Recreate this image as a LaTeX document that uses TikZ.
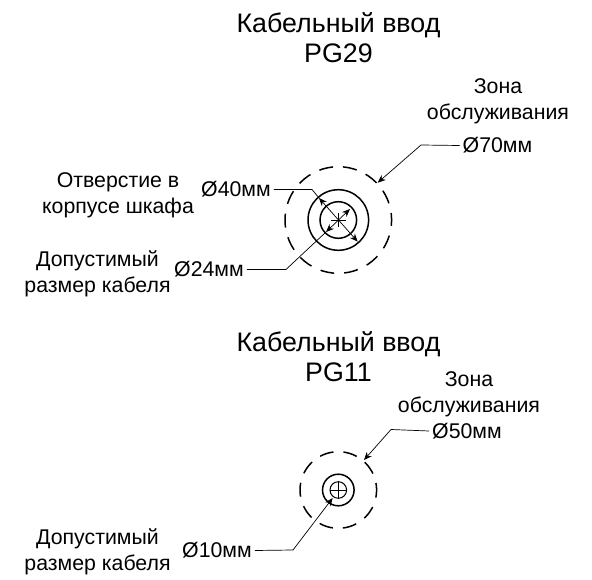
\documentclass[tikz,border=0pt]{standalone}
\usepackage{fontspec}
\setmainfont{Liberation Sans}
\usetikzlibrary{arrows.meta}
\tikzset{
  title/.style={align=center, font=\fontsize{26.8}{30}\selectfont, inner sep=0pt},
  label/.style={align=center, font=\fontsize{21.3}{26}\selectfont, inner sep=0pt},
  dim/.style={font=\fontsize{21.3}{25}\selectfont, inner sep=3pt},
  ring/.style={draw, circle, line width=1.5pt, minimum size=#1, inner sep=0pt},
  zone/.style={draw, circle, line width=1.5pt, dash pattern=on 14pt off 10pt, dash phase=7pt, minimum size=#1, inner sep=0pt},
  leader/.style={line width=0.7pt},
  arrow/.style={line width=0.7pt, -{Stealth[length=8pt,width=6.5pt]}},
  both/.style={line width=0.7pt, {Stealth[length=8pt,width=6.5pt]}-{Stealth[length=8pt,width=6.5pt]}}
}
\begin{document}
\begin{tikzpicture}[x=1pt, y=-1pt]
\useasboundingbox (0,0) rectangle (592,580);
%% upper gland
  \node[title] (titleA) at (338.5,38) {Кабельный ввод\\PG29};
  \node[label] (zoneA) at (498,101.5) {Зона\\обслуживания};
  \node[dim] (dimA) at (497.5,145.5) {Ø70мм};
  \node[label] (holeA) at (118,195) {Отверстие в\\корпусе шкафа};
  \node[dim] (dimB) at (236,189.5) {Ø40мм};
  \node[label] (cableA) at (97.5,274) {Допустимый\\размер кабеля};
  \node[dim] (dimC) at (209,269.5) {Ø24мм};
  \node[zone=106.6pt] (outerA) at (338.3,220) {};
  \node[ring=60.6pt] (midA) at (338.3,220) {};
  \node[ring=36.6pt] (innerA) at (338.3,220) {};
  \coordinate (kneeA) at (421,145);
  \coordinate (kneeB) at (312,189.5);
  \coordinate (kneeC) at (286,269.5);
  \coordinate (tipA) at (377.7,182.7);
  \coordinate (tipB) at (319,198);
  \coordinate (tipC) at (357.7,241.7);
  \coordinate (tipD) at (326,232);
  \coordinate (tipE) at (350,209);
  \draw[arrow] (dimA.west) -- (kneeA) -- (tipA);
  \draw[leader] (dimB.east) -- (kneeB) -- (tipB);
  \draw[both] (tipB) -- (tipC);
  \draw[leader] (dimC.east) -- (kneeC) -- (tipD);
  \draw[both] (tipD) -- (tipE);
  \draw[leader] (331,220) -- (345.6,220);
  \draw[leader] (338.3,213) -- (338.3,227);
%% lower gland
  \node[title] (titleB) at (338.5,357) {Кабельный ввод\\PG11};
  \node[label] (zoneB) at (469,394) {Зона\\обслуживания};
  \node[dim] (dimD) at (467,431) {Ø50мм};
  \node[label] (cableB) at (97.5,552) {Допустимый\\размер кабеля};
  \node[dim] (dimE) at (217,550.5) {Ø10мм};
  \node[zone=76.6pt] (outerB) at (338.3,490) {};
  \node[ring=31.6pt] (midB) at (338.3,490) {};
  \node[ring=16.6pt, line width=1pt] (innerB) at (338.3,490) {};
  \coordinate (kneeD) at (391,429.5);
  \coordinate (kneeE) at (293,550);
  \coordinate (tipF) at (364,460);
  \coordinate (tipG) at (332.7,498);
  \draw[arrow] (dimD.west) -- (kneeD) -- (tipF);
  \draw[arrow] (dimE.east) -- (kneeE) -- (tipG);
  \draw[leader] (innerB.west) -- (innerB.east);
  \draw[leader] (innerB.north) -- (innerB.south);
\end{tikzpicture}
\end{document}
